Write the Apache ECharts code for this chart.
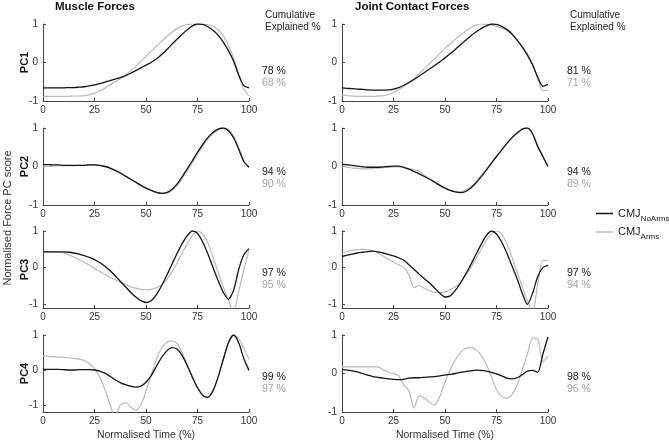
<!DOCTYPE html>
<html>
<head>
<meta charset="utf-8">
<script src="https://cdn.jsdelivr.net/npm/echarts@6/dist/echarts.min.js"></script>
<style>
html,body{margin:0;padding:0;background:#fff;}
#chart{width:669px;height:443px;}
</style>
</head>
<body>
<div id="chart"></div>
<script>
// normalised time (%)
var time = [0,2.5,5,7.5,10,12.5,15,17.5,20,22.5,25,27.5,30,32.5,35,37.5,40,42.5,45,47.5,50,
	52.5,55,57.5,60,62.5,65,67.5,70,72.5,75,77.5,80,82.5,85,87.5,90,92.5,95,97.5,100];

// muscle forces
var musclePC1NoArms = [-0.66,-0.66,-0.66,-0.66,-0.66,-0.65,-0.65,-0.64,-0.63,-0.61,-0.58,-0.55,-0.51,-0.47,-0.43,-0.39,-0.34,-0.28,-0.21,-0.14,-0.07,
	0.0,0.09,0.2,0.33,0.47,0.6,0.73,0.85,0.95,1.0,0.99,0.93,0.84,0.71,0.53,0.31,0.04,-0.33,-0.6,-0.66];
var musclePC1Arms = [-0.88,-0.88,-0.88,-0.88,-0.88,-0.88,-0.87,-0.87,-0.86,-0.84,-0.8,-0.74,-0.67,-0.58,-0.5,-0.42,-0.33,-0.22,-0.1,0.03,0.16,
	0.29,0.42,0.55,0.67,0.78,0.88,0.95,0.99,1.0,1.0,1.0,0.98,0.94,0.85,0.69,0.45,0.12,-0.3,-0.7,-0.86];
var musclePC2NoArms = [0.05,0.05,0.04,0.04,0.03,0.03,0.03,0.03,0.03,0.04,0.04,0.03,0.0,-0.04,-0.1,-0.17,-0.25,-0.33,-0.41,-0.49,-0.56,
	-0.62,-0.67,-0.7,-0.68,-0.6,-0.46,-0.27,-0.06,0.15,0.37,0.57,0.75,0.88,0.97,1.0,0.93,0.75,0.45,0.13,-0.02];
var musclePC2Arms = [-0.01,0.0,0.01,0.02,0.02,0.02,0.02,0.03,0.03,0.04,0.04,0.03,0.01,-0.03,-0.09,-0.16,-0.24,-0.32,-0.4,-0.48,-0.55,
	-0.61,-0.66,-0.69,-0.69,-0.63,-0.5,-0.32,-0.11,0.1,0.32,0.53,0.71,0.85,0.95,1.0,0.97,0.8,0.5,0.15,-0.02];
var musclePC3NoArms = [0.43,0.43,0.43,0.43,0.43,0.42,0.4,0.37,0.33,0.28,0.22,0.14,0.04,-0.08,-0.22,-0.37,-0.52,-0.67,-0.8,-0.9,-0.95,
	-0.9,-0.74,-0.5,-0.22,0.08,0.38,0.65,0.87,1.0,0.93,0.7,0.38,0.01,-0.35,-0.67,-0.86,-0.62,-0.05,0.35,0.52];
var musclePC3Arms = [0.43,0.43,0.43,0.42,0.4,0.35,0.29,0.22,0.15,0.07,-0.02,-0.1,-0.18,-0.26,-0.33,-0.4,-0.46,-0.52,-0.56,-0.59,-0.6,
	-0.59,-0.55,-0.47,-0.33,-0.13,0.12,0.4,0.65,0.87,1.0,0.92,0.68,0.3,-0.12,-0.52,-0.88,-1.22,-0.65,-0.05,0.48];
var musclePC4NoArms = [0.02,0.02,0.02,0.02,0.01,0.0,0.0,0.01,0.01,0.01,0.0,-0.03,-0.09,-0.18,-0.28,-0.36,-0.42,-0.46,-0.49,-0.46,-0.35,
	-0.16,0.1,0.35,0.54,0.64,0.6,0.42,0.13,-0.2,-0.5,-0.72,-0.78,-0.6,-0.2,0.3,0.78,1.0,0.78,0.32,-0.01];
var musclePC4Arms = [0.4,0.39,0.38,0.37,0.36,0.35,0.33,0.31,0.27,0.18,0.04,-0.2,-0.55,-0.98,-1.35,-1.0,-0.93,-1.05,-1.15,-1.0,-0.6,
	-0.15,0.3,0.62,0.78,0.83,0.76,0.5,0.15,-0.22,-0.52,-0.72,-0.77,-0.58,-0.2,0.3,0.78,1.0,0.9,0.62,0.3];

// joint contact forces
var jointPC1NoArms = [-0.66,-0.67,-0.68,-0.69,-0.7,-0.71,-0.72,-0.72,-0.72,-0.71,-0.69,-0.65,-0.59,-0.52,-0.44,-0.35,-0.26,-0.17,-0.08,0.02,0.12,
	0.23,0.34,0.46,0.58,0.69,0.79,0.88,0.95,1.0,0.99,0.94,0.86,0.74,0.58,0.4,0.19,-0.06,-0.38,-0.62,-0.57];
var jointPC1Arms = [-0.85,-0.86,-0.87,-0.88,-0.88,-0.88,-0.88,-0.87,-0.86,-0.83,-0.78,-0.71,-0.62,-0.52,-0.41,-0.29,-0.16,-0.03,0.1,0.23,0.36,
	0.48,0.6,0.71,0.81,0.9,0.97,1.0,0.99,0.97,0.94,0.9,0.83,0.73,0.59,0.42,0.22,-0.04,-0.42,-0.74,-0.72];
var jointPC2NoArms = [0.06,0.04,0.03,0.01,-0.01,-0.02,-0.02,-0.02,-0.01,0.0,0.01,0.01,-0.02,-0.07,-0.13,-0.19,-0.26,-0.33,-0.41,-0.49,-0.56,
	-0.62,-0.66,-0.68,-0.65,-0.56,-0.43,-0.27,-0.1,0.08,0.26,0.43,0.6,0.75,0.87,0.97,1.0,0.85,0.52,0.26,0.0];
var jointPC2Arms = [0.0,-0.02,-0.04,-0.05,-0.06,-0.06,-0.05,-0.04,-0.03,-0.02,-0.01,-0.01,-0.02,-0.06,-0.09,-0.12,-0.23,-0.32,-0.4,-0.48,-0.55,
	-0.61,-0.65,-0.66,-0.62,-0.53,-0.4,-0.24,-0.07,0.1,0.26,0.42,0.58,0.73,0.86,0.96,1.0,0.86,0.55,0.27,0.0];
var jointPC3NoArms = [0.3,0.34,0.37,0.4,0.42,0.44,0.45,0.43,0.4,0.36,0.32,0.27,0.2,0.08,-0.05,-0.18,-0.3,-0.42,-0.56,-0.7,-0.8,
	-0.77,-0.62,-0.42,-0.18,0.08,0.36,0.63,0.87,1.0,0.92,0.7,0.4,0.05,-0.3,-0.7,-1.0,-0.7,-0.25,0.0,0.06];
var jointPC3Arms = [0.4,0.44,0.47,0.49,0.5,0.49,0.46,0.4,0.32,0.23,0.15,0.08,0.0,-0.2,-0.55,-0.48,-0.56,-0.63,-0.67,-0.68,-0.66,
	-0.6,-0.52,-0.4,-0.22,0.0,0.24,0.5,0.74,0.92,1.0,0.92,0.65,0.28,-0.12,-0.52,-0.9,-1.22,-0.45,0.2,0.2];
var jointPC4NoArms = [0.1,0.09,0.07,0.04,0.0,-0.04,-0.08,-0.1,-0.12,-0.14,-0.15,-0.16,-0.15,-0.12,-0.11,-0.11,-0.1,-0.09,-0.08,-0.06,-0.04,
	-0.02,0.0,0.03,0.05,0.07,0.09,0.08,0.06,0.03,-0.01,-0.06,-0.12,-0.14,-0.11,-0.03,0.06,0.08,0.03,0.5,0.95];
var jointPC4Arms = [0.17,0.17,0.17,0.17,0.17,0.17,0.17,0.17,0.1,0.04,0.0,-0.06,-0.3,-0.45,-0.9,-0.58,-0.64,-0.75,-0.82,-0.6,-0.22,
	0.1,0.35,0.55,0.65,0.67,0.62,0.48,0.24,-0.08,-0.42,-0.6,-0.64,-0.55,-0.3,0.1,0.5,0.92,0.9,0.3,0.45];

// cumulative explained variance (%)
var musclePctNoArms = [78, 94, 97, 99];
var musclePctArms = [68, 90, 95, 97];
var jointPctNoArms = [81, 94, 97, 98];
var jointPctArms = [71, 89, 94, 96];

var pcNames = ['PC1', 'PC2', 'PC3', 'PC4'];
var yTicks = [-1, 0, 1];
var muscleYMin = [-1, -1, -1.1, -1.2];
var jointYMin = [-1, -1, -1.1, -1];

var muscleNo = [musclePC1NoArms, musclePC2NoArms, musclePC3NoArms, musclePC4NoArms];
var muscleArms = [musclePC1Arms, musclePC2Arms, musclePC3Arms, musclePC4Arms];
var jointNo = [jointPC1NoArms, jointPC2NoArms, jointPC3NoArms, jointPC4NoArms];
var jointArms = [jointPC1Arms, jointPC2Arms, jointPC3Arms, jointPC4Arms];

var FONT = 'Liberation Sans, Arial, Helvetica, sans-serif';
var BLACK = '#141414';
var GREY = '#bababa';
var colLeft = [43, 342];
var rowTop = [24, 128, 231, 335];
var plotW = 206, plotH = 77;

function pairs(arr) {
	return time.map(function(t, i) { return [t, arr[i]]; });
}

var grids = [], xAxes = [], yAxes = [], series = [], graphics = [];

for (var c = 0; c < 2; c++) {
	for (var r = 0; r < 4; r++) {
		var idx = grids.length;
		grids.push({left: colLeft[c], top: rowTop[r], width: plotW, height: plotH, outerBoundsMode: 'none'});
		xAxes.push({
			type: 'value', gridIndex: idx, min: 0, max: 100, interval: 25,
			name: r === 3 ? 'Normalised Time (%)' : '',
			nameLocation: 'middle', nameGap: 18, nameMoveOverlap: false,
			nameTextStyle: {fontFamily: FONT, fontSize: 10.5, color: '#333'},
			axisLine: {onZero: false, lineStyle: {color: '#444', width: 1}},
			axisTick: {inside: true, length: 3, lineStyle: {color: '#444'}},
			axisLabel: {fontFamily: FONT, fontSize: 10, color: '#333', margin: 4},
			splitLine: {show: false}
		});
		yAxes.push({
			type: 'value', gridIndex: idx, min: c === 0 ? muscleYMin[r] : jointYMin[r], max: 1,
			name: c === 0 ? pcNames[r] : '',
			nameLocation: 'middle', nameRotate: 90, nameGap: 13, nameMoveOverlap: false,
			nameTextStyle: {fontFamily: FONT, fontSize: 11, fontWeight: 'bold', color: '#111'},
			axisLine: {show: true, onZero: false, lineStyle: {color: '#444', width: 1}},
			axisTick: {show: true, inside: true, length: 3, customValues: yTicks, lineStyle: {color: '#444'}},
			axisLabel: {fontFamily: FONT, fontSize: 10, color: '#333', margin: 5, customValues: yTicks},
			splitLine: {show: false}
		});
		var noData = c === 0 ? muscleNo[r] : jointNo[r];
		var armData = c === 0 ? muscleArms[r] : jointArms[r];
		series.push({
			name: 'CMJ_Arms', type: 'line', xAxisIndex: idx, yAxisIndex: idx,
			data: pairs(armData), symbol: 'none', smooth: 0.25, clip: true,
			lineStyle: {color: GREY, width: 1.2}, itemStyle: {color: GREY}
		});
		series.push({
			name: 'CMJ_NoArms', type: 'line', xAxisIndex: idx, yAxisIndex: idx,
			data: pairs(noData), symbol: 'none', smooth: 0.25, clip: true,
			lineStyle: {color: BLACK, width: 1.3}, itemStyle: {color: BLACK}
		});
	}
}

// cumulative explained % labels
var pctX = [262, 567];
var pctY = [71, 172, 273, 377];
var pctSets = [[musclePctNoArms, musclePctArms], [jointPctNoArms, jointPctArms]];
for (var c2 = 0; c2 < 2; c2++) {
	graphics.push({type: 'text', x: pctX[c2] + 3, y: 15, style: {text: 'Cumulative', fontFamily: FONT, fontSize: 10, fill: '#222', textVerticalAlign: 'middle'}});
	graphics.push({type: 'text', x: pctX[c2] + 3, y: 27, style: {text: 'Explained %', fontFamily: FONT, fontSize: 10, fill: '#222', textVerticalAlign: 'middle'}});
	for (var r2 = 0; r2 < 4; r2++) {
		graphics.push({type: 'text', x: pctX[c2], y: pctY[r2], style: {text: pctSets[c2][0][r2] + ' %', fontFamily: FONT, fontSize: 10.5, fill: '#1a1a1a', textVerticalAlign: 'middle'}});
		graphics.push({type: 'text', x: pctX[c2], y: pctY[r2] + 12, style: {text: pctSets[c2][1][r2] + ' %', fontFamily: FONT, fontSize: 10.5, fill: '#a6a6a6', textVerticalAlign: 'middle'}});
	}
}
graphics.push({
	type: 'text', x: 8, y: 218, rotation: Math.PI / 2,
	style: {text: 'Normalised Force PC score', fontFamily: FONT, fontSize: 11, fill: '#333', textAlign: 'center', textVerticalAlign: 'middle'}
});

var chart = echarts.init(document.getElementById('chart'));
chart.setOption({
	animation: false,
	backgroundColor: '#fff',
	title: [
		{text: 'Muscle Forces', left: 55, top: 1, padding: 0, textStyle: {fontFamily: FONT, fontSize: 11.5, fontWeight: 'bold', color: '#111'}},
		{text: 'Joint Contact Forces', left: 355, top: 1, padding: 0, textStyle: {fontFamily: FONT, fontSize: 11.5, fontWeight: 'bold', color: '#111'}}
	],
	legend: {
		data: ['CMJ_NoArms', 'CMJ_Arms'],
		orient: 'vertical', left: 596, top: 208, padding: 0,
		icon: 'rect', itemWidth: 17, itemHeight: 1.5, itemGap: 4,
		formatter: function(name) {
			return '{m|CMJ}{s|' + name.split('_')[1] + '}';
		},
		textStyle: {
			fontFamily: FONT, color: '#222',
			rich: {
				m: {fontFamily: FONT, fontSize: 11, color: '#222', lineHeight: 18, verticalAlign: 'middle'},
				s: {fontFamily: FONT, fontSize: 8, color: '#222', lineHeight: 18, verticalAlign: 'bottom', padding: [6, 0, 0, 0]}
			}
		}
	},
	grid: grids,
	xAxis: xAxes,
	yAxis: yAxes,
	series: series,
	graphic: graphics
});
</script>
</body>
</html>
